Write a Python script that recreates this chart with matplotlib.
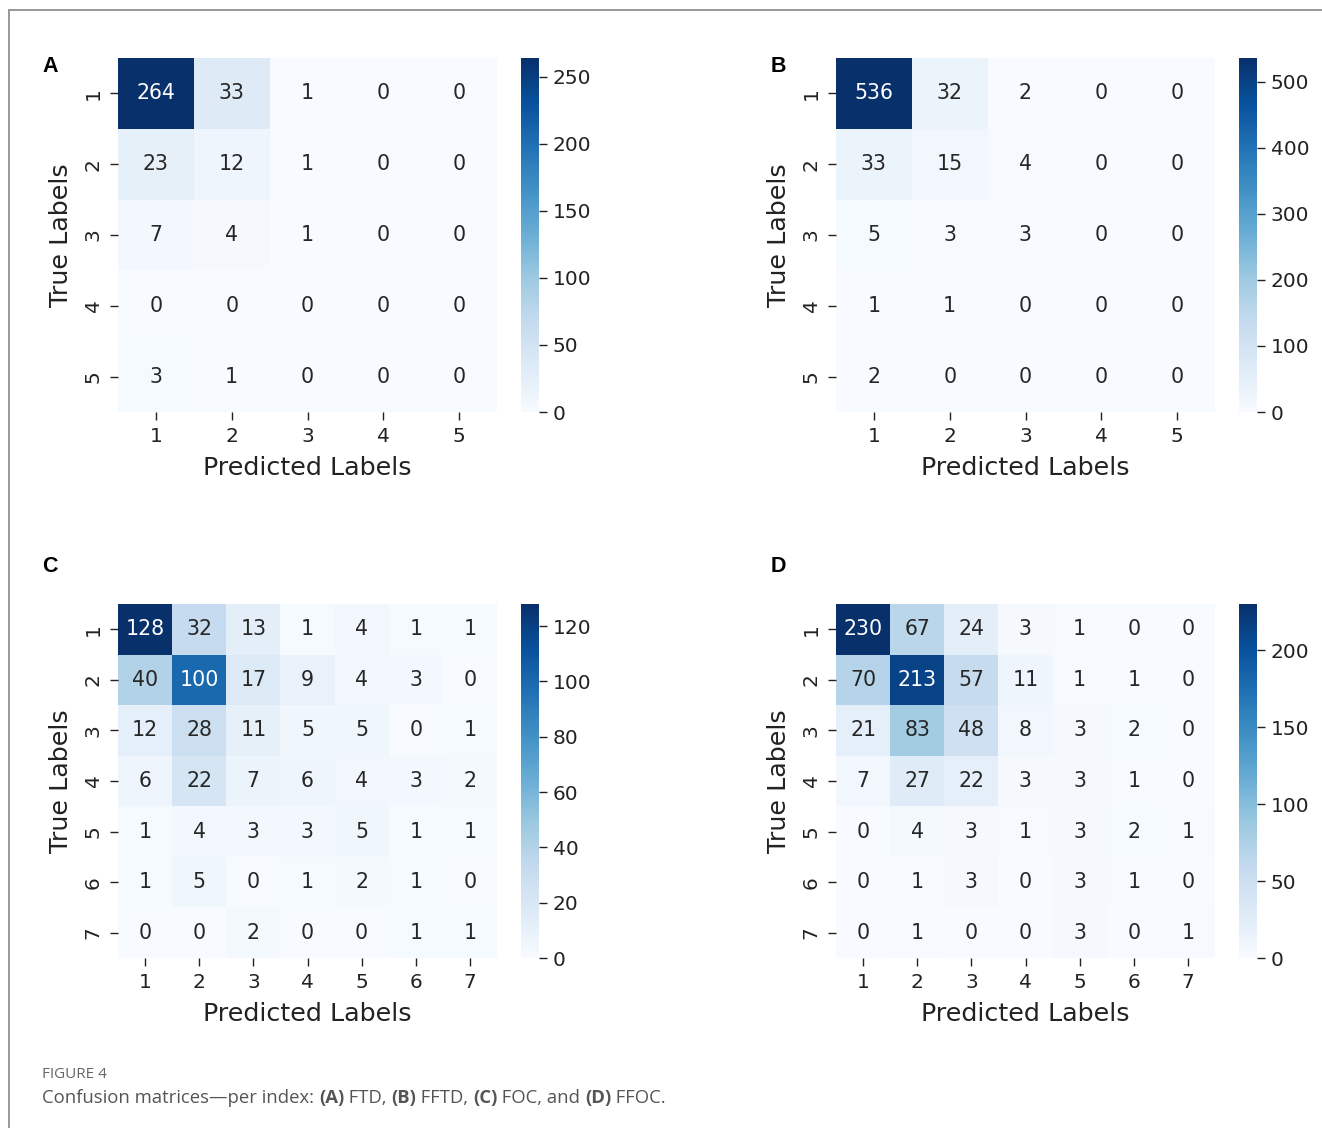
import numpy as np
import matplotlib
matplotlib.use("Agg")
import matplotlib.pyplot as plt
from matplotlib.lines import Line2D
import seaborn as sns

plt.rcParams["font.family"] = ["DejaVu Sans"]

# Confusion matrices (rows: true label, columns: predicted label)
cm_ftd = [
    [264, 33, 1, 0, 0],
    [23, 12, 1, 0, 0],
    [7, 4, 1, 0, 0],
    [0, 0, 0, 0, 0],
    [3, 1, 0, 0, 0],
]
cm_fftd = [
    [536, 32, 2, 0, 0],
    [33, 15, 4, 0, 0],
    [5, 3, 3, 0, 0],
    [1, 1, 0, 0, 0],
    [2, 0, 0, 0, 0],
]
cm_foc = [
    [128, 32, 13, 1, 4, 1, 1],
    [40, 100, 17, 9, 4, 3, 0],
    [12, 28, 11, 5, 5, 0, 1],
    [6, 22, 7, 6, 4, 3, 2],
    [1, 4, 3, 3, 5, 1, 1],
    [1, 5, 0, 1, 2, 1, 0],
    [0, 0, 2, 0, 0, 1, 1],
]
cm_ffoc = [
    [230, 67, 24, 3, 1, 0, 0],
    [70, 213, 57, 11, 1, 1, 0],
    [21, 83, 48, 8, 3, 2, 0],
    [7, 27, 22, 3, 3, 1, 0],
    [0, 4, 3, 1, 3, 2, 1],
    [0, 1, 3, 0, 3, 1, 0],
    [0, 1, 0, 0, 3, 0, 1],
]
labels_5 = ["1", "2", "3", "4", "5"]
labels_7 = ["1", "2", "3", "4", "5", "6", "7"]
panel_letters = ["A", "B", "C", "D"]
caption_title = "FIGURE 4"

W, H = 1322, 1128
fig = plt.figure(figsize=(W / 100, H / 100), dpi=100)
fig.patch.set_facecolor("white")


def px_axes(x0, y0, x1, y1):
    """Add axes given pixel box (top-left origin)."""
    return fig.add_axes([x0 / W, 1 - y1 / H, (x1 - x0) / W, (y1 - y0) / H])


# (matrix, labels, heatmap left, heatmap top, letter x, letter y) in pixels
panels = [
    (cm_ftd, labels_5, 118, 58, 50, 66),
    (cm_fftd, labels_5, 836, 58, 778, 66),
    (cm_foc, labels_7, 118, 604, 50, 566),
    (cm_ffoc, labels_7, 836, 604, 778, 566),
]

hm_w, hm_h = 379, 354
tick_fs = 14.5
label_fs = 18.3
annot_fs = 14.8

for (cm, labs, x0, y0, lx, ly), letter in zip(panels, panel_letters):
    data = np.array(cm)
    ax = px_axes(x0, y0, x0 + hm_w, y0 + hm_h)
    cax = px_axes(x0 + 403, y0, x0 + 421, y0 + hm_h)
    sns.heatmap(data, annot=True, fmt="d", cmap="Blues", ax=ax, cbar_ax=cax,
                xticklabels=labs, yticklabels=labs,
                annot_kws={"fontsize": annot_fs})
    ax.tick_params(axis="both", length=6, width=1.0, labelsize=tick_fs,
                   colors="#222222", pad=5)
    for t in ax.get_yticklabels():
        t.set_rotation(90)
        t.set_va("center")
    ax.set_xlabel("Predicted Labels", fontsize=label_fs, color="#222222", labelpad=7)
    ax.set_ylabel("True Labels", fontsize=label_fs, color="#222222", labelpad=8)
    cax.tick_params(length=6, width=1.0, labelsize=tick_fs, colors="#222222", pad=4)
    fig.text(lx / W, 1 - ly / H, letter, fontsize=15.5,
             fontweight="bold", ha="center", va="center", color="black",
             family="Liberation Sans")

# Frame lines at top and left
fig.add_artist(Line2D([9 / W, 1.0], [1 - 10 / H, 1 - 10 / H], color="#999999", lw=1.4))
fig.add_artist(Line2D([9 / W, 9 / W], [1 - 10 / H, 0.0], color="#999999", lw=1.4))

# Caption
cap_color = "#555555"
fig.text(42 / W, 1 - 1074 / H, caption_title, fontsize=11, color="#666666",
         ha="left", va="center", family="Open Sans")

caption_parts = [
    ("Confusion matrices\u2014per index: ", "normal"),
    ("(A)", "bold"), (" FTD, ", "normal"),
    ("(B)", "bold"), (" FFTD, ", "normal"),
    ("(C)", "bold"), (" FOC, and ", "normal"),
    ("(D)", "bold"), (" FFOC.", "normal"),
]
renderer = fig.canvas.get_renderer()
xpos = 42
for txt, weight in caption_parts:
    t = fig.text(xpos / W, 1 - 1098 / H, txt, fontsize=13.3, color=cap_color,
                 fontweight=weight, ha="left", va="center", family="Open Sans")
    bb = t.get_window_extent(renderer=renderer)
    xpos += bb.width

fig.savefig("out.png", dpi=100, facecolor="white")
